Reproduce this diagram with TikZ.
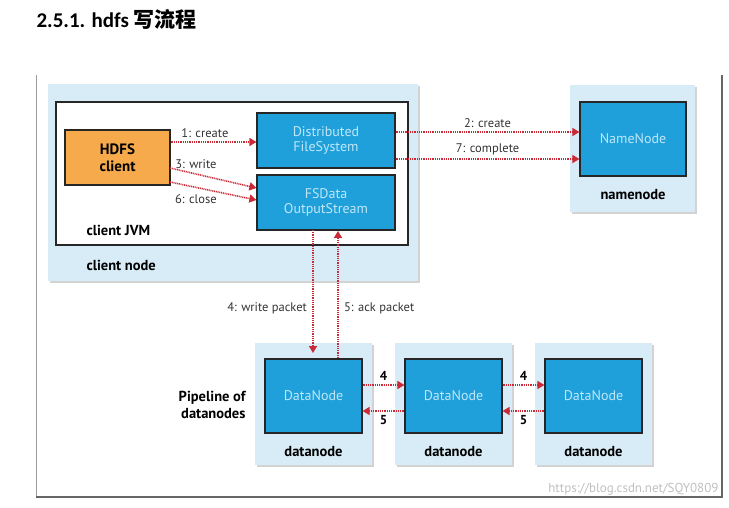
\documentclass[tikz,border=0pt]{standalone}
\usepackage{fontspec}
\setmainfont{PT Sans}
\newfontfamily\cjk{Noto Sans CJK SC}
\newfontfamily\titlefont{Carlito}
\usetikzlibrary{arrows.meta,shadows}
\definecolor{lb}{HTML}{D8ECF7}
\definecolor{bb}{HTML}{1FA0DA}
\definecolor{or}{HTML}{F6AA4C}
\definecolor{rd}{HTML}{C92A36}
\definecolor{wt}{HTML}{BFE6F7}
\tikzset{
 outer/.style={fill=lb,draw=none,drop shadow={opacity=0.35,shadow xshift=2pt,shadow yshift=-2pt}},
 blue/.style={fill=bb,draw=black!85,line width=1.2pt,text=wt,align=center,font=\fontsize{14}{15}\selectfont},
 ar/.style={draw=rd,line width=1.6pt,dash pattern=on 1pt off 0.8pt,-{Triangle[length=7pt,width=8pt,fill=rd]}},
 lbl/.style={font=\fontsize{12.5}{14}\selectfont,text=black!80},
 bl/.style={font=\bfseries\fontsize{14.5}{16}\selectfont},
}
\begin{document}
\begin{tikzpicture}[x=1pt,y=-1pt]
\useasboundingbox (0,0) rectangle (729,508);
\node[anchor=west,font=\bfseries\fontsize{21}{24}\selectfont] (title) at (33,19) {\titlefont 2.5.1. hdfs {\cjk 写流程}};
% frame
\draw[black!40,line width=0.6pt] (36,75) -- (36,497);
\draw[black!60,line width=2pt] (722,75) -- (722,497) -- (36,497);
% client node
\path[outer] (48,84) rectangle (418,281);
\draw[fill=white,draw=black!85,line width=1.2pt] (56,102) rectangle (408,245);
\node[anchor=west,bl] (jvm) at (83,230) {client JVM};
\node[anchor=west,bl] (cn) at (83,265) {client node};
\node[fill=or,draw=black!85,line width=1.2pt,minimum width=105pt,minimum height=55pt,align=center,font=\bfseries\fontsize{15}{17}\selectfont] (hc) at (117.5,157.5) {HDFS\\client};
\node[blue,minimum width=138pt,minimum height=55pt] (dfs) at (326,140.5) {Distributed\\FileSystem};
\node[blue,minimum width=138pt,minimum height=55pt] (fso) at (326,202.5) {FSData\\OutputStream};
% namenode
\path[outer] (570,85) rectangle (695,212);
\node[blue,minimum width=106pt,minimum height=74pt] (nn) at (633,139) {NameNode};
\node[bl] (nnl) at (633,195) {namenode};
% datanodes
\foreach \i/\x in {1/313.5,2/453.5,3/593.5}{
 \path[outer] (\x-58.5,343) rectangle (\x+58.5,465);
 \node[blue,minimum width=97pt,minimum height=74pt] (dn\i) at (\x,396) {DataNode};
 \node[bl] (dl\i) at (\x,452) {datanode};
}
\node[align=right,anchor=east,font=\bfseries\fontsize{14.5}{17}\selectfont] (pipe) at (249,405) {Pipeline of\\datanodes};
% arrows client
\draw[ar] (hc.east |- 0,142) -- (dfs.west |- 0,142) node[pos=0.4,above,lbl,yshift=0pt] {1: create};
\draw[ar] (170,168) -- (fso.west |- 0,188) node[pos=0.3,above,lbl,yshift=1pt] {3: write};
\draw[ar] (170,182) -- (fso.west |- 0,200) node[pos=0.3,below,lbl,yshift=-3pt] {6: close};
\draw[ar] (dfs.east |- 0,132) -- (nn.west |- 0,132) node[midway,above,lbl] {2: create};
\draw[ar] (dfs.east |- 0,159) -- (nn.west |- 0,159) node[midway,above,lbl] {7: complete};
% packets
\draw[ar] (313,230) -- (313,353) node[pos=0.64,left,lbl,xshift=-2pt] {4: write packet};
\draw[ar] (338,358) -- (338,231) node[pos=0.39,right,lbl,xshift=2pt] {5: ack packet};
\foreach \a/\b in {1/2,2/3}{
 \draw[ar] (dn\a.east |- 0,385) -- (dn\b.west |- 0,385) node[midway,above,font=\bfseries\fontsize{13}{14}\selectfont] {4};
 \draw[ar] (dn\b.west |- 0,411) -- (dn\a.east |- 0,411) node[midway,below,font=\bfseries\fontsize{13}{14}\selectfont] {5};
}
\node[anchor=east,text=black!25,font=\fontsize{13}{14}\selectfont] (wm) at (722,489) {https://blog.csdn.net/SQY0809};
\end{tikzpicture}
\end{document}
